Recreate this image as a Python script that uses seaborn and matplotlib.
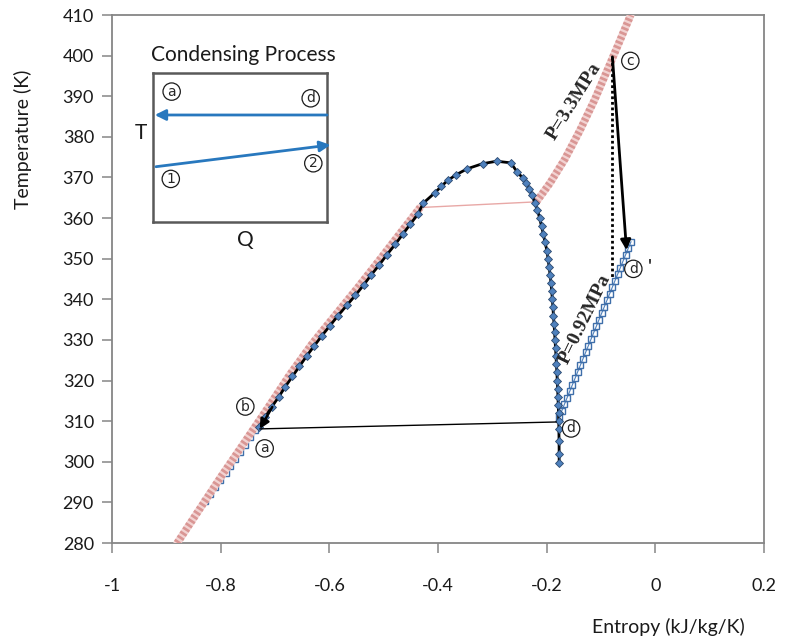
import matplotlib
matplotlib.use("Agg")
import matplotlib.pyplot as plt
import seaborn as sns
import pandas as pd

# ---------------- data ----------------
# Saturation dome (R134a) : entropy [kJ/kg/K], temperature [K]
dome_s = [-0.729, -0.718, -0.706, -0.693, -0.681, -0.668, -0.655, -0.642, -0.628, -0.614,
          -0.599, -0.584, -0.568, -0.552, -0.537, -0.523, -0.508, -0.494, -0.479, -0.465,
          -0.451, -0.437, -0.427, -0.406, -0.394, -0.382, -0.366, -0.347, -0.318, -0.292,
          -0.266, -0.254, -0.244, -0.238, -0.232, -0.227, -0.222,
          -0.217, -0.213, -0.2095, -0.206, -0.203, -0.1995, -0.1975, -0.1955, -0.1937, -0.192,
          -0.1907, -0.1895, -0.1885, -0.1875, -0.1865, -0.1855, -0.1846, -0.1837, -0.1828, -0.182,
          -0.1812, -0.1805, -0.1798, -0.1792, -0.1787, -0.1782, -0.1778, -0.1775, -0.1772, -0.177,
          -0.177]
dome_T = [308.5, 311.0, 313.5, 316.0, 318.5, 321.0, 323.5, 326.0, 328.5, 331.0,
          333.5, 336.0, 338.5, 341.0, 343.5, 346.0, 348.5, 351.0, 353.5, 356.0,
          358.5, 361.0, 363.7, 366.2, 367.8, 369.3, 370.7, 372.1, 373.4, 374.0,
          373.6, 371.3, 369.9, 368.7, 367.2, 365.8, 363.7,
          362.0, 360.0, 358.0, 356.0, 354.0, 352.0, 350.0, 348.0, 346.0, 344.0,
          342.0, 340.0, 338.0, 336.0, 334.0, 332.0, 330.0, 328.0, 326.0, 324.0,
          322.0, 320.0, 318.0, 316.0, 314.0, 312.0, 310.0, 308.0, 305.0, 302.0,
          299.8]

# Isobar P = 3.3 MPa (compressed liquid, two-phase, superheated vapour)
hp_liq_s = [-0.880, -0.838, -0.798, -0.755, -0.713, -0.673, -0.632, -0.589, -0.547, -0.507, -0.470, -0.433]
hp_liq_T = [280.0, 288.5, 296.6, 305.0, 313.3, 321.4, 329.0, 336.1, 343.0, 349.8, 356.2, 362.6]
hp_mix_s = [-0.433, -0.219]
hp_mix_T = [362.6, 364.0]
hp_vap_s = [-0.219, -0.194, -0.1666, -0.1391, -0.1115, -0.0839, -0.0655, -0.0453]
hp_vap_T = [364.0, 368.6, 374.5, 381.5, 389.2, 397.8, 403.6, 410.0]

# Isobar P = 0.92 MPa
lp_liq_s = [-0.828, -0.819, -0.810, -0.801, -0.791, -0.782, -0.773, -0.764, -0.755, -0.746, -0.737]
lp_liq_T = [290.3, 292.1, 293.8, 295.5, 297.2, 299.0, 300.7, 302.4, 304.1, 306.1, 307.8]
lp_vap_s = [-0.177, -0.1720, -0.1672, -0.1623, -0.1574, -0.1525, -0.1476, -0.1428, -0.1379, -0.1330,
            -0.1281, -0.1232, -0.1183, -0.1134, -0.1085, -0.1036, -0.0987, -0.0938, -0.0889, -0.0840,
            -0.0791, -0.0742, -0.0693, -0.0644, -0.0595, -0.0546, -0.0497, -0.0447]
lp_vap_T = [311.0, 312.6, 314.2, 315.8, 317.4, 319.0, 320.6, 322.2, 323.8, 325.4,
            327.0, 328.6, 330.2, 331.8, 333.4, 335.0, 336.6, 338.2, 339.8, 341.4,
            343.0, 344.6, 346.2, 347.8, 349.4, 351.0, 352.6, 354.2]

# Process state points
pt_a = (-0.728, 308.1)
pt_d = (-0.182, 309.8)
pt_c = (-0.079, 399.7)
pt_dp = (-0.053, 352.1)
dotted_end_T = 345.5

x_ticks = [-1, -0.8, -0.6, -0.4, -0.2, 0, 0.2]
x_tick_labels = ["-1", "-0.8", "-0.6", "-0.4", "-0.2", "0", "0.2"]
y_ticks = [280, 290, 300, 310, 320, 330, 340, 350, 360, 370, 380, 390, 400, 410]

# ---------------- styling ----------------
sns.set_theme(style="white")
plt.rcParams["font.family"] = ["Lato", "DejaVu Sans"]

PINK = "#D99694"
BLUE = "#4F81BD"
GRAY = "#868686"
ARROW_BLUE = "#2878BE"

fig = plt.figure(figsize=(7.86, 6.44), dpi=100)
ax = fig.add_axes([0.1425, 0.1568, 0.8295, 0.8199])

def line(s, T, **kw):
    df = pd.DataFrame({"s": s, "T": T})
    sns.lineplot(data=df, x="s", y="T", sort=False, estimator=None, ax=ax, **kw)

# 0.92 MPa isobar (hollow squares)
line(lp_liq_s, lp_liq_T, color=BLUE, lw=0.8, marker="s", ms=5, mfc="none", mec="#3F6FAA", mew=1.0, zorder=2)
line(lp_vap_s, lp_vap_T, color=BLUE, lw=0.8, marker="s", ms=5, mfc="none", mec="#3F6FAA", mew=1.0, zorder=2)

# 3.3 MPa isobar (dense chain of hollow circles)
for s_, T_ in [(hp_liq_s, hp_liq_T), (hp_vap_s, hp_vap_T)]:
    line(s_, T_, color="#F2D3D2", lw=5.5, zorder=3)
    line(s_, T_, color=PINK, lw=5.5, ls=(0, (0.35, 0.3)), zorder=3)
line(hp_mix_s, hp_mix_T, color="#E8A8A6", lw=1.0, zorder=3)

# Saturation dome
line(dome_s, dome_T, color="black", lw=2.0, marker="D", ms=3.9, mfc=BLUE, mec="#2C4A70", mew=0.6, zorder=4)

# Process lines
ax.annotate("", xy=pt_a, xytext=(-0.705, 313.5),
            arrowprops=dict(arrowstyle="-|>", color="black", lw=1.8, mutation_scale=14,
                            shrinkA=0, shrinkB=0), zorder=5)
ax.plot([pt_a[0], pt_d[0]], [pt_a[1], pt_d[1]], color="black", lw=1.0, zorder=5)
ax.plot([pt_c[0], pt_c[0]], [pt_c[1], dotted_end_T], color="black", lw=2.0, ls=(0, (1, 1)), zorder=5)
ax.annotate("", xy=pt_dp, xytext=pt_c,
            arrowprops=dict(arrowstyle="-|>", color="black", lw=2.0, mutation_scale=15,
                            shrinkA=0, shrinkB=0), zorder=6)

# circled labels
def circ(ax_, x, y, t, **kw):
    ax_.text(x, y, t, ha="center", va="center", fontsize=10, family=["DejaVu Sans"], zorder=7,
             bbox=dict(boxstyle="circle,pad=0.12", fc="white", ec="#1a1a1a", lw=0.9), **kw)

circ(ax, -0.046, 398.7, "c")
circ(ax, -0.0405, 347.5, "d")
ax.text(-0.011, 347.9, "'", ha="center", va="center", fontsize=14, color="black", zorder=7)
circ(ax, -0.155, 308.2, "d")
circ(ax, -0.7546, 313.6, "b")
circ(ax, -0.719, 303.3, "a")

ax.text(-0.149, 388.6, "P=3.3MPa", rotation=58, ha="center", va="center", fontsize=14,
        family=["Liberation Serif"], fontweight="bold", zorder=7)
ax.text(-0.130, 335.2, "P=0.92MPa", rotation=64, ha="center", va="center", fontsize=14,
        family=["Liberation Serif"], fontweight="bold", zorder=7)

# axes
ax.set_xlim(-1, 0.2)
ax.set_ylim(280, 410)
ax.set_xticks(x_ticks)
ax.set_xticklabels(x_tick_labels)
ax.set_yticks(y_ticks)
for sp in ax.spines.values():
    sp.set_color(GRAY)
    sp.set_linewidth(1.3)
    sp.set_visible(True)
ax.tick_params(axis="both", direction="out", length=7, width=1.1, color=GRAY,
               labelsize=13, labelcolor="#1a1a1a", left=True, bottom=True)
ax.tick_params(axis="x", pad=18)
ax.tick_params(axis="y", pad=6)
ax.set_xlabel("Entropy (kJ/kg/K)", fontsize=14, color="#1a1a1a")
ax.set_ylabel("Temperature (K)", fontsize=14, color="#1a1a1a")
ax.xaxis.set_label_coords(0.853, -0.142)
ax.yaxis.set_label_coords(-0.122, 0.765)
ax.grid(False)

# inset: condensing process
ins = fig.add_axes([0.1947, 0.6553, 0.2214, 0.2314])
ins.set_xlim(0, 1)
ins.set_ylim(0, 1)
ins.set_xticks([])
ins.set_yticks([])
ins.set_facecolor("white")
for sp in ins.spines.values():
    sp.set_color("#595959")
    sp.set_linewidth(1.8)
    sp.set_visible(True)
ins.text(0.517, 1.12, "Condensing Process", ha="center", va="center", fontsize=15, color="#1a1a1a")
ins.text(-0.069, 0.597, "T", ha="center", va="center", fontsize=15, color="#1a1a1a")
ins.text(0.529, -0.121, "Q", ha="center", va="center", fontsize=15, color="#1a1a1a")
ins.annotate("", xy=(0.01, 0.718), xytext=(1.0, 0.718), xycoords="axes fraction",
             arrowprops=dict(arrowstyle="-|>", color=ARROW_BLUE, lw=2, mutation_scale=16,
                             shrinkA=0, shrinkB=0), annotation_clip=False)
ins.annotate("", xy=(1.02, 0.517), xytext=(0.017, 0.371), xycoords="axes fraction",
             arrowprops=dict(arrowstyle="-|>", color=ARROW_BLUE, lw=2, mutation_scale=16,
                             shrinkA=0, shrinkB=0), annotation_clip=False)
circ(ins, 0.107, 0.875, "a")
circ(ins, 0.906, 0.830, "d")
circ(ins, 0.102, 0.289, "1")
circ(ins, 0.921, 0.394, "2")

fig.savefig("out.png", dpi=100)
